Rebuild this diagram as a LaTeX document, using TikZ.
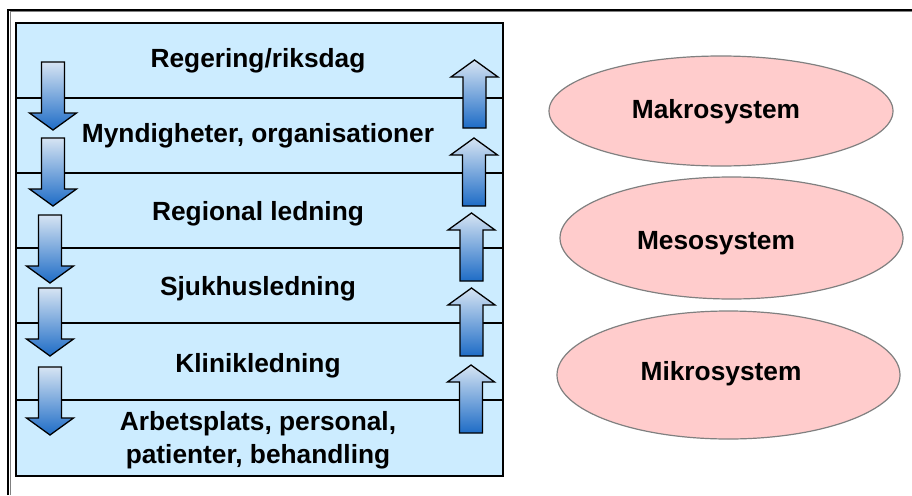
\documentclass[tikz,border=0pt]{standalone}
\usepackage{fontspec}
\setmainfont{Liberation Sans}
\usetikzlibrary{shapes.geometric}
\definecolor{boxblue}{RGB}{204,236,255}
\definecolor{arrlight}{RGB}{214,228,243}
\definecolor{arrdark}{RGB}{30,108,198}
\definecolor{ellfill}{RGB}{255,204,204}
\definecolor{ellline}{RGB}{128,128,128}
\newcommand\dnarrow[2]{%
  \draw[arrowbody] (#1-11.5,#2) -- (#1+11.5,#2) -- (#1+11.5,#2+51) -- (#1+23.5,#2+51)
    -- (#1,#2+68) -- (#1-23.5,#2+51) -- (#1-11.5,#2+51) -- cycle;}
\newcommand\uparrowat[2]{%
  \draw[arrowbody] (#1,#2) -- (#1+23.5,#2+17) -- (#1+11.5,#2+17) -- (#1+11.5,#2+68)
    -- (#1-11.5,#2+68) -- (#1-11.5,#2+17) -- (#1-23.5,#2+17) -- cycle;}
\tikzset{
  arrowbody/.style={draw=black, line width=1.3pt, line join=miter, top color=arrlight, bottom color=arrdark},
  level/.style={font=\bfseries\fontsize{26.3}{33}\selectfont, inner sep=0pt, anchor=base},
  sysell/.style={ellipse, draw=ellline, line width=1.2pt, fill=ellfill, inner sep=0pt},
  sep/.style={line width=1.5pt, black}
}
\begin{document}
\begin{tikzpicture}[x=1pt,y=-1pt]
\useasboundingbox (0,0) rectangle (912,495);
\fill[white] (0,0) rectangle (912,495);
% outer frame
\draw[gray, line width=1pt] (10.5,495) -- (10.5,11.5) -- (912,11.5);
\draw[black, line width=1.2pt] (8,495) -- (8,10) -- (912,10);
% inner box
\node[draw=black, line width=2pt, fill=boxblue, minimum width=487pt, minimum height=453pt, inner sep=0pt, anchor=north west] (box) at (15,22) {};
\coordinate (l1) at (15,98);  \coordinate (r1) at (502,98);
\coordinate (l2) at (15,173); \coordinate (r2) at (502,173);
\coordinate (l3) at (15,248); \coordinate (r3) at (502,248);
\coordinate (l4) at (15,323); \coordinate (r4) at (502,323);
\coordinate (l5) at (15,400); \coordinate (r5) at (502,400);
\foreach \i in {1,...,5} {\draw[sep] (l\i) -- (r\i);}
% texts
\node[level] (t1) at (258,67.5) {Regering/riksdag};
\node[level] (t2) at (258,142) {Myndigheter, organisationer};
\node[level] (t3) at (258,220) {Regional ledning};
\node[level] (t4) at (258,295) {Sjukhusledning};
\node[level] (t5) at (258,372) {Klinikledning};
\node[level] (t6a) at (258,430) {Arbetsplats, personal,};
\node[level] (t6b) at (258,463) {patienter, behandling};
% down arrows
\dnarrow{53}{62}
\dnarrow{53}{138}
\dnarrow{50}{215}
\dnarrow{50}{288}
\dnarrow{50}{367}
% up arrows
\uparrowat{474.5}{60}
\uparrowat{474}{138}
\uparrowat{471.5}{213}
\uparrowat{471.5}{288}
\uparrowat{471}{365}
% ellipses
\node[sysell, minimum width=344pt, minimum height=110pt] (makro) at (721,111) {};
\node[sysell, minimum width=343pt, minimum height=122pt] (meso) at (731.5,238) {};
\node[sysell, minimum width=343pt, minimum height=128pt] (mikro) at (728.5,375) {};
\node[level] (makrot) at (716,118) {Makrosystem};
\node[level] (mesot) at (716,249) {Mesosystem};
\node[level] (mikrot) at (721,380) {Mikrosystem};
\end{tikzpicture}
\end{document}
